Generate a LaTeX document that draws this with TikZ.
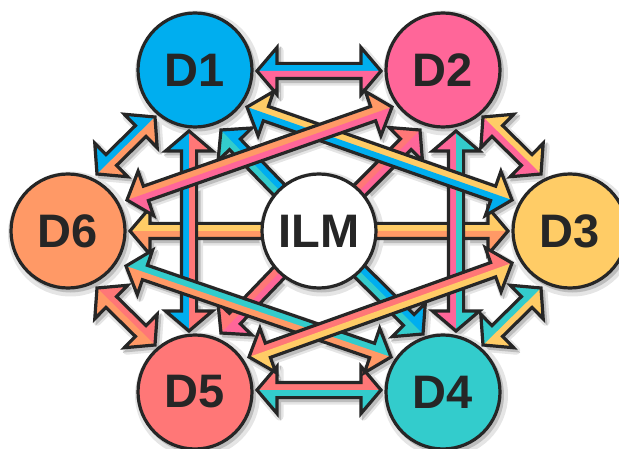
\documentclass[tikz,border=0pt]{standalone}
\usepackage{fontspec}
\setmainfont{Liberation Sans}
\usetikzlibrary{calc}

\definecolor{ink}{HTML}{262626}
\definecolor{cBlue}{HTML}{00AEEF}
\definecolor{cPink}{HTML}{FF6699}
\definecolor{cYellow}{HTML}{FFCC66}
\definecolor{cTeal}{HTML}{33CCCC}
\definecolor{cCoral}{HTML}{FF7777}
\definecolor{cOrange}{HTML}{FF9966}

\pgfdeclarelayer{shade}
\pgfdeclarelayer{links}
\pgfsetlayers{shade,links,main}

\tikzset{
  dnode/.style={circle, draw=ink, line width=3.2pt, minimum size=114pt,
    inner sep=0pt, text=ink, font=\fontsize{47}{47}\selectfont\bfseries},
  rim/.style={draw=ink, line width=3.2pt, line join=miter, miter limit=8},
  shadefill/.style={fill=black!26, draw=black!26, line width=3pt},
  shadehalo/.style={draw=black!10, line width=8pt, line join=round},
}

% arrow geometry: shaft half width, head half width, head length
\def\sw{7.6pt}
\def\hw{23.5pt}
\def\hl{20pt}

\newif\ifshadepass

% \barrow{start}{end}{left colour}{right colour}{head at start: 1/0}
% a broad arrow with a head at its end, split lengthwise into two colours
\newcommand\barrow[5]{%
  \ifnum#5=1
    \coordinate (bs) at ($(#1)!\hl!(#2)$);\def\hws{\hw}%
  \else
    \coordinate (bs) at (#1);\def\hws{\sw}%
  \fi
  \coordinate (be) at ($(#2)!\hl!(#1)$);
  \coordinate (sl) at ($(bs)!\sw!90:(#2)$);
  \coordinate (sr) at ($(bs)!\sw!-90:(#2)$);
  \coordinate (hsl) at ($(bs)!\hws!90:(#2)$);
  \coordinate (hsr) at ($(bs)!\hws!-90:(#2)$);
  \coordinate (el) at ($(be)!\sw!-90:(#1)$);
  \coordinate (er) at ($(be)!\sw!90:(#1)$);
  \coordinate (hel) at ($(be)!\hw!-90:(#1)$);
  \coordinate (her) at ($(be)!\hw!90:(#1)$);
  \ifshadepass
    \draw[shadehalo] (#1) -- (hsl) -- (sl) -- (el) -- (hel) -- (#2) -- (her) -- (er) -- (sr) -- (hsr) -- cycle;
    \filldraw[shadefill] (#1) -- (hsl) -- (sl) -- (el) -- (hel) -- (#2) -- (her) -- (er) -- (sr) -- (hsr) -- cycle;
  \else
    \fill[#3] (#1) -- (hsl) -- (sl) -- (el) -- (hel) -- (#2) -- (her) -- (er) -- (sr) -- (hsr) -- cycle;
    \fill[#4] (#1) -- (hsr) -- (sr) -- (er) -- (her) -- (#2) -- cycle;
    \draw[rim] (#1) -- (hsl) -- (sl) -- (el) -- (hel) -- (#2) -- (her) -- (er) -- (sr) -- (hsr) -- cycle;
  \fi
}

% every link of the diagram, lowest first
\newcommand\linksall{%
  \barrow{p61}{p16}{cBlue}{cOrange}{1}%
  \barrow{p23}{p32}{cYellow}{cPink}{1}%
  \barrow{p65}{p56}{cCoral}{cOrange}{1}%
  \barrow{p34}{p43}{cYellow}{cTeal}{1}%
  \barrow{p12}{p21}{cBlue}{cPink}{1}%
  \barrow{p54}{p45}{cCoral}{cTeal}{1}%
  \barrow{ILM.center}{q6}{cOrange}{cYellow}{0}%
  \barrow{ILM.center}{q3}{cYellow}{cOrange}{0}%
  \barrow{ILM.center}{q1}{cTeal}{cBlue}{0}%
  \barrow{ILM.center}{q2}{cCoral}{cPink}{0}%
  \barrow{ILM.center}{q5}{cPink}{cCoral}{0}%
  \barrow{ILM.center}{q4}{cBlue}{cTeal}{0}%
  \barrow{p51}{p15}{cBlue}{cCoral}{1}%
  \barrow{p42}{p24}{cPink}{cTeal}{1}%
  \barrow{p13}{p31}{cYellow}{cBlue}{1}%
  \barrow{p62}{p26}{cOrange}{cPink}{1}%
  \barrow{p64}{p46}{cTeal}{cOrange}{1}%
  \barrow{p53}{p35}{cCoral}{cYellow}{1}%
}

\begin{document}
\begin{tikzpicture}[x=1pt, y=-1pt]
  \useasboundingbox (0,0) rectangle (619,449);

  % the seven circles
  \node[dnode, fill=cBlue]   (D1)  at (195,70)  {D1};
  \node[dnode, fill=cPink]   (D2)  at (443,70)  {D2};
  \node[dnode, fill=cYellow] (D3)  at (570,231) {D3};
  \node[dnode, fill=cTeal]   (D4)  at (443,392) {D4};
  \node[dnode, fill=cCoral]  (D5)  at (195,392) {D5};
  \node[dnode, fill=cOrange] (D6)  at (68,231)  {D6};
  \node[dnode, fill=white]   (ILM) at (319,231) {ILM};

  % arrow tips, placed around the circles
  \coordinate (p12) at ($(D1)+(62,1)$);
  \coordinate (p21) at ($(D2)+(-62,1)$);
  \coordinate (p54) at ($(D5)+(62,-2)$);
  \coordinate (p45) at ($(D4)+(-62,-2)$);
  \coordinate (p61) at ($(D6)+(29,-57)$);
  \coordinate (p16) at ($(D1)+(-40,47)$);
  \coordinate (p23) at ($(D2)+(40,47)$);
  \coordinate (p32) at ($(D3)+(-29,-57)$);
  \coordinate (p65) at ($(D6)+(29,57)$);
  \coordinate (p56) at ($(D5)+(-40,-47)$);
  \coordinate (p34) at ($(D3)+(-29,57)$);
  \coordinate (p43) at ($(D4)+(40,-47)$);
  \coordinate (p51) at ($(D5)+(-6,-61)$);
  \coordinate (p15) at ($(D1)+(-6,61)$);
  \coordinate (p42) at ($(D4)+(13,-61)$);
  \coordinate (p24) at ($(D2)+(13,61)$);
  \coordinate (q6)  at ($(D6)+(62,0)$);
  \coordinate (q3)  at ($(D3)+(-62,0)$);
  \coordinate (q1)  at ($(D1)+(26,60)$);
  \coordinate (q2)  at ($(D2)+(-23,60)$);
  \coordinate (q5)  at ($(D5)+(26,-59)$);
  \coordinate (q4)  at ($(D4)+(-20,-58)$);
  \coordinate (p13) at ($(D1)+(52,37)$);
  \coordinate (p31) at ($(D3)+(-58,-31)$);
  \coordinate (p62) at ($(D6)+(59,-31)$);
  \coordinate (p26) at ($(D2)+(-51,37)$);
  \coordinate (p64) at ($(D6)+(58,35)$);
  \coordinate (p46) at ($(D4)+(-52,-35)$);
  \coordinate (p53) at ($(D5)+(54,-35)$);
  \coordinate (p35) at ($(D3)+(-58,32)$);

  % soft shadow below everything
  \begin{pgfonlayer}{shade}
    \begin{scope}[transform canvas={shift={(2.5pt,-3pt)}}]
      \shadepasstrue
      \linksall
      \foreach \n in {D1,D2,D3,D4,D5,D6,ILM}{
        \draw[shadehalo] (\n.center) circle[radius=58.5pt];
        \filldraw[shadefill] (\n.center) circle[radius=57pt];
      }
    \end{scope}
  \end{pgfonlayer}

  % the links
  \begin{pgfonlayer}{links}
    \linksall
  \end{pgfonlayer}
\end{tikzpicture}
\end{document}
